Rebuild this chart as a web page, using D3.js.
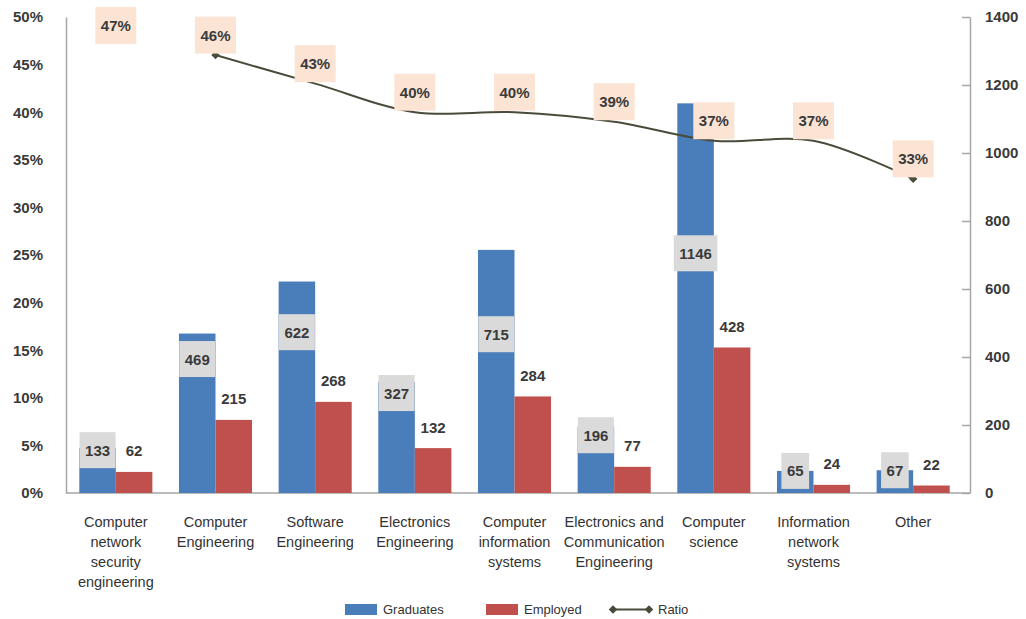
<!DOCTYPE html>
<html>
<head>
<meta charset="utf-8">
<script src="https://cdn.jsdelivr.net/npm/d3@7"></script>
<style>
  html, body { margin: 0; padding: 0; background: #fff; }
  svg { display: block; font-family: "Liberation Sans", Arial, sans-serif; }
</style>
</head>
<body>
<svg id="chart" width="1026" height="619"></svg>
<script>
// Majors (label lines), graduates, employed and employment ratio
const categories = [
  ["Computer", "network", "security", "engineering"],
  ["Computer", "Engineering"],
  ["Software", "Engineering"],
  ["Electronics", "Engineering"],
  ["Computer", "information", "systems"],
  ["Electronics and", "Communication", "Engineering"],
  ["Computer", "science"],
  ["Information", "network", "systems"],
  ["Other"]
];
const graduates = [133, 469, 622, 327, 715, 196, 1146, 65, 67];
const employed  = [62, 215, 268, 132, 284, 77, 428, 24, 22];
const ratio     = [0.47, 0.46, 0.43, 0.40, 0.40, 0.39, 0.37, 0.37, 0.33];
const percentTicks = [0, 0.05, 0.10, 0.15, 0.20, 0.25, 0.30, 0.35, 0.40, 0.45, 0.50];
const countTicks   = [0, 200, 400, 600, 800, 1000, 1200, 1400];
const seriesNames  = ["Graduates", "Employed", "Ratio"];

// ---- layout ----
const svg = d3.select("#chart");
const plotLeft = 66, plotRight = 963, plotTop = 17, plotBottom = 493;
const rightAxisX = 970;
const BLUE = "#4a7ebb", RED = "#c0504d", LINE = "#4b4b3b";
const AXIS = "#a6a6a6", TEXT = "#3a3a3a";

const keys = categories.map((c, i) => i);
const x = d3.scaleBand().domain(keys).range([plotLeft, plotRight]).padding(0);
const xSub = d3.scaleBand().domain(["g", "e"]).range([0, x.bandwidth()])
  .paddingInner(0).paddingOuter(0.364);
const yL = d3.scaleLinear().domain([0, 0.5]).range([plotBottom, plotTop]);
const yR = d3.scaleLinear().domain([0, 1400]).range([plotBottom, plotTop]);

// ---- axes ----
const axL = svg.append("g").attr("transform", `translate(${plotLeft},0)`)
  .call(d3.axisLeft(yL).tickValues(percentTicks).tickFormat(d3.format(".0%"))
    .tickSize(0).tickPadding(23));
axL.select(".domain").attr("stroke", AXIS).attr("stroke-width", 1.5);

const axR = svg.append("g").attr("transform", `translate(${rightAxisX},0)`)
  .call(d3.axisRight(yR).tickValues(countTicks).tickFormat(d3.format("d"))
    .tickSizeInner(-8).tickSizeOuter(0).tickPadding(15));
axR.select(".domain").attr("stroke", AXIS).attr("stroke-width", 1.5);
axR.selectAll(".tick line").attr("stroke", AXIS).attr("stroke-width", 1.5);

[axL, axR].forEach(a => a.selectAll(".tick text")
  .attr("font-family", "Liberation Sans, Arial, sans-serif")
  .attr("font-size", 15).attr("font-weight", "bold").attr("fill", TEXT));

// baseline
svg.append("line").attr("x1", plotLeft).attr("x2", rightAxisX)
  .attr("y1", yR(0)).attr("y2", yR(0))
  .attr("stroke", AXIS).attr("stroke-width", 1.5);

// ---- bars ----
const bars = svg.append("g");
bars.selectAll("rect.grad").data(graduates).join("rect")
  .attr("class", "grad")
  .attr("x", (d, i) => x(i) + xSub("g"))
  .attr("width", xSub.bandwidth())
  .attr("y", d => yR(d))
  .attr("height", d => yR(0) - yR(d))
  .attr("fill", BLUE);
bars.selectAll("rect.emp").data(employed).join("rect")
  .attr("class", "emp")
  .attr("x", (d, i) => x(i) + xSub("e"))
  .attr("width", xSub.bandwidth())
  .attr("y", d => yR(d))
  .attr("height", d => yR(0) - yR(d))
  .attr("fill", RED);

// ---- ratio line (from the second major onward) ----
const lineIdx = keys.slice(1);
const cx = i => x(i) + x.bandwidth() / 2;
const line = d3.line().x(i => cx(i)).y(i => yL(ratio[i])).curve(d3.curveCatmullRom.alpha(0.5));
svg.append("path").attr("d", line(lineIdx))
  .attr("fill", "none").attr("stroke", LINE).attr("stroke-width", 2);
// square marker turned 45° -> diamond
const marker = d3.symbol().type(d3.symbolSquare).size(36);
[lineIdx[0], lineIdx[lineIdx.length - 1]].forEach(i => {
  svg.append("path").attr("d", marker())
    .attr("transform", `translate(${cx(i)},${yL(ratio[i])}) rotate(45)`)
    .attr("fill", LINE);
});

// ---- value labels ----
const labelFont = { "font-size": 15, "font-weight": "bold", "fill": TEXT };
function boxedLabel(g, text, cxv, cyv, fill, h) {
  const t = g.append("text").text(text)
    .attr("x", cxv).attr("y", cyv).attr("text-anchor", "middle")
    .attr("dominant-baseline", "central");
  Object.entries(labelFont).forEach(([k, v]) => t.attr(k, v));
  const w = t.node().getComputedTextLength() + 11;
  g.insert("rect", () => t.node())
    .attr("x", cxv - w / 2).attr("y", cyv - h / 2)
    .attr("width", w).attr("height", h).attr("fill", fill);
}

// graduates: grey boxes sitting on the blue bars
const gradLabelAt = [126, 394, 473, 294, 467, 170, 705, 65, 67];
const gl = svg.append("g");
graduates.forEach((v, i) => {
  boxedLabel(gl, d3.format("d")(v), x(i) + xSub("g") + xSub.bandwidth() / 2,
    yR(gradLabelAt[i]), "#dadada", 36);
});

// employed: plain figures above the red bars
employed.forEach((v, i) => {
  const t = svg.append("text").text(v)
    .attr("x", x(i) + xSub("e") + xSub.bandwidth() / 2)
    .attr("y", yR(v) - 21).attr("text-anchor", "middle")
    .attr("dominant-baseline", "central");
  Object.entries(labelFont).forEach(([k, val]) => t.attr(k, val));
});

// ratio: peach boxes above the line points
const rl = svg.append("g");
ratio.forEach((v, i) => {
  boxedLabel(rl, d3.format(".0%")(v), cx(i), yL(v) - 20, "#fce4d4", 37);
});

// ---- category labels ----
const cat = svg.append("g");
categories.forEach((lines, i) => {
  const t = cat.append("text").attr("text-anchor", "middle")
    .attr("font-size", 14.5).attr("fill", "#333");
  lines.forEach((s, j) => {
    t.append("tspan").attr("x", cx(i)).attr("y", 527 + j * 20).text(s);
  });
});

// ---- legend ----
const lg = svg.append("g").attr("font-size", 13).attr("fill", "#333");
lg.append("rect").attr("x", 345).attr("y", 604).attr("width", 32).attr("height", 11).attr("fill", BLUE);
lg.append("text").attr("x", 383).attr("y", 614).text(seriesNames[0]);
lg.append("rect").attr("x", 486).attr("y", 604).attr("width", 32).attr("height", 11).attr("fill", RED);
lg.append("text").attr("x", 524).attr("y", 614).text(seriesNames[1]);
lg.append("line").attr("x1", 613).attr("x2", 649).attr("y1", 609.5).attr("y2", 609.5)
  .attr("stroke", LINE).attr("stroke-width", 2);
[613, 649].forEach(px => lg.append("path").attr("d", marker())
  .attr("transform", `translate(${px},609.5) rotate(45)`).attr("fill", LINE));
lg.append("text").attr("x", 658).attr("y", 614).text(seriesNames[2]);
</script>
</body>
</html>
